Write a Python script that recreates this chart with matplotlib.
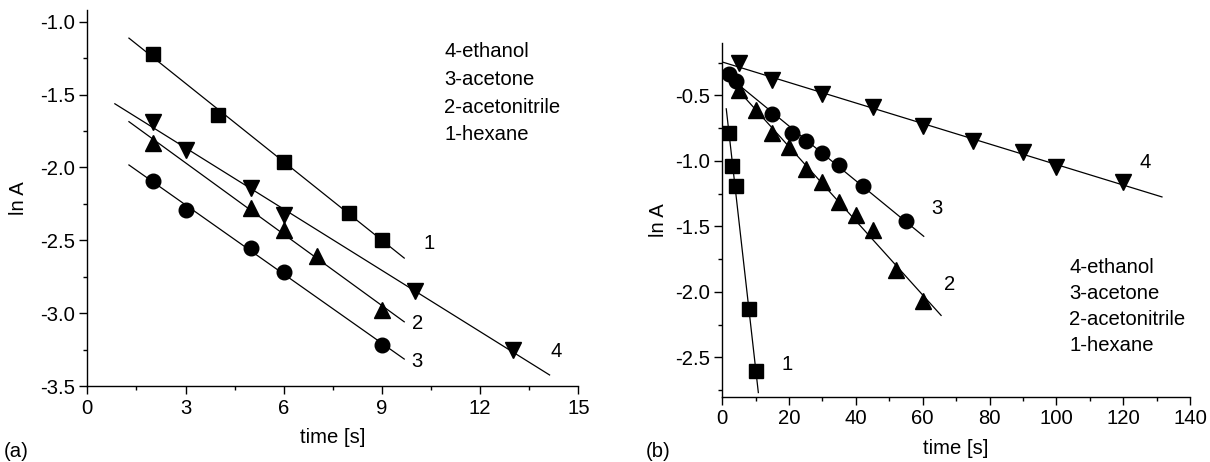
import numpy as np
import matplotlib
matplotlib.use('Agg')
import matplotlib.pyplot as plt
from matplotlib.ticker import MultipleLocator, FormatStrFormatter

FS = 14.6
plt.rcParams['font.family'] = ['Liberation Sans', 'DejaVu Sans']
plt.rcParams['font.size'] = FS

# ---- panel (a): time [s] vs ln A ----
a_t_hexane = [2, 4, 6, 8, 9]
a_lnA_hexane = [-1.22, -1.64, -1.96, -2.31, -2.50]
a_t_acetonitrile = [2, 5, 6, 7, 9]
a_lnA_acetonitrile = [-1.83, -2.28, -2.43, -2.61, -2.98]
a_t_acetone = [2, 3, 5, 6, 9]
a_lnA_acetone = [-2.09, -2.29, -2.55, -2.72, -3.22]
a_t_ethanol = [2, 3, 5, 6, 10, 13]
a_lnA_ethanol = [-1.69, -1.88, -2.14, -2.33, -2.85, -3.25]
# x-range covered by each fitted line
a_fit_range = {'1': (1.27, 9.68), '2': (1.27, 9.68), '3': (1.27, 9.68), '4': (0.84, 14.12)}

# ---- panel (b) ----
b_t_hexane = [2, 3, 4, 8, 10]
b_lnA_hexane = [-0.79, -1.04, -1.19, -2.13, -2.60]
b_t_acetonitrile = [5, 10, 15, 20, 25, 30, 35, 40, 45, 52, 60]
b_lnA_acetonitrile = [-0.46, -0.61, -0.79, -0.89, -1.06, -1.16, -1.31, -1.41, -1.53, -1.83, -2.07]
b_t_acetone = [2, 4, 15, 21, 25, 30, 35, 42, 55]
b_lnA_acetone = [-0.34, -0.39, -0.64, -0.79, -0.85, -0.94, -1.03, -1.19, -1.46]
b_t_ethanol = [5, 15, 30, 45, 60, 75, 90, 100, 120]
b_lnA_ethanol = [-0.25, -0.38, -0.49, -0.59, -0.73, -0.85, -0.93, -1.05, -1.16]
b_fit_range = {'1': (1.2, 10.8), '2': (2.0, 65.5), '3': (2.0, 60.3), '4': (0.0, 131.6)}

legend_lines = ['4-ethanol', '3-acetone', '2-acetonitrile', '1-hexane']

fig = plt.figure(figsize=(12.1, 4.62), dpi=100)
ax1 = fig.add_axes([0.0722, 0.1645, 0.4058, 0.8139])
ax2 = fig.add_axes([0.5969, 0.1413, 0.3866, 0.7656])


def draw(ax, series, fit_range):
    for key, t, y, marker, ms in series:
        ax.plot(t, y, linestyle='none', marker=marker, color='black', markersize=ms)
        # straight-line fit through the points of this series
        k, b = np.polyfit(t, y, 1)
        x0, x1 = fit_range[key]
        xs = np.array([x0, x1])
        ax.plot(xs, k * xs + b, color='black', linewidth=0.9)


draw(ax1, [
    ('1', a_t_hexane, a_lnA_hexane, 's', 10),
    ('2', a_t_acetonitrile, a_lnA_acetonitrile, '^', 12),
    ('3', a_t_acetone, a_lnA_acetone, 'o', 10.5),
    ('4', a_t_ethanol, a_lnA_ethanol, 'v', 12),
], a_fit_range)

draw(ax2, [
    ('1', b_t_hexane, b_lnA_hexane, 's', 10),
    ('2', b_t_acetonitrile, b_lnA_acetonitrile, '^', 12),
    ('3', b_t_acetone, b_lnA_acetone, 'o', 10.5),
    ('4', b_t_ethanol, b_lnA_ethanol, 'v', 12),
], b_fit_range)

# curve numbers
for txt, x, y in [('1', 10.28, -2.52), ('2', 9.93, -3.07), ('3', 9.9, -3.335), ('4', 14.16, -3.26)]:
    ax1.text(x, y, txt, ha='left', va='center')
for txt, x, y in [('1', 17.8, -2.555), ('2', 66.3, -1.94), ('3', 62.5, -1.36), ('4', 124.8, -1.015)]:
    ax2.text(x, y, txt, ha='left', va='center')

# legend text blocks
for i, s in enumerate(legend_lines):
    ax1.text(10.9, -1.206 - 0.19 * i, s, ha='left', va='center')
    ax2.text(103.9, -1.812 - 0.2 * i, s, ha='left', va='center')

for ax in (ax1, ax2):
    ax.spines['top'].set_visible(False)
    ax.spines['right'].set_visible(False)
    for sp in ('left', 'bottom'):
        ax.spines[sp].set_linewidth(1.0)
    ax.tick_params(which='major', direction='out', length=5.5, width=1.0, labelsize=FS)
    ax.tick_params(which='minor', direction='out', length=2.8, width=1.0)
    ax.set_ylabel('ln A', fontsize=FS)
    ax.set_xlabel('time [s]', fontsize=FS)

ax1.set_xlim(0, 15)
ax1.set_ylim(-3.5, -0.92)
ax1.xaxis.set_major_locator(MultipleLocator(3))
ax1.xaxis.set_minor_locator(MultipleLocator(1.5))
ax1.yaxis.set_major_locator(MultipleLocator(0.5))
ax1.yaxis.set_minor_locator(MultipleLocator(0.25))
ax1.yaxis.set_major_formatter(FormatStrFormatter('%.1f'))
ax1.yaxis.set_label_coords(-0.12, 0.5)
ax1.xaxis.set_label_coords(0.5, -0.112)

ax2.set_xlim(0, 140)
ax2.set_ylim(-2.8, -0.1)
ax2.xaxis.set_major_locator(MultipleLocator(20))
ax2.xaxis.set_minor_locator(MultipleLocator(10))
ax2.yaxis.set_major_locator(MultipleLocator(0.5))
ax2.yaxis.set_minor_locator(MultipleLocator(0.25))
ax2.yaxis.set_major_formatter(FormatStrFormatter('%.1f'))
ax2.yaxis.set_label_coords(-0.117, 0.5)
ax2.xaxis.set_label_coords(0.5, -0.12)

fig.text(0.003, 0.022, '(a)', fontsize=FS, ha='left', va='center')
fig.text(0.534, 0.022, '(b)', fontsize=FS, ha='left', va='center')

fig.savefig('out.png', dpi=100)
